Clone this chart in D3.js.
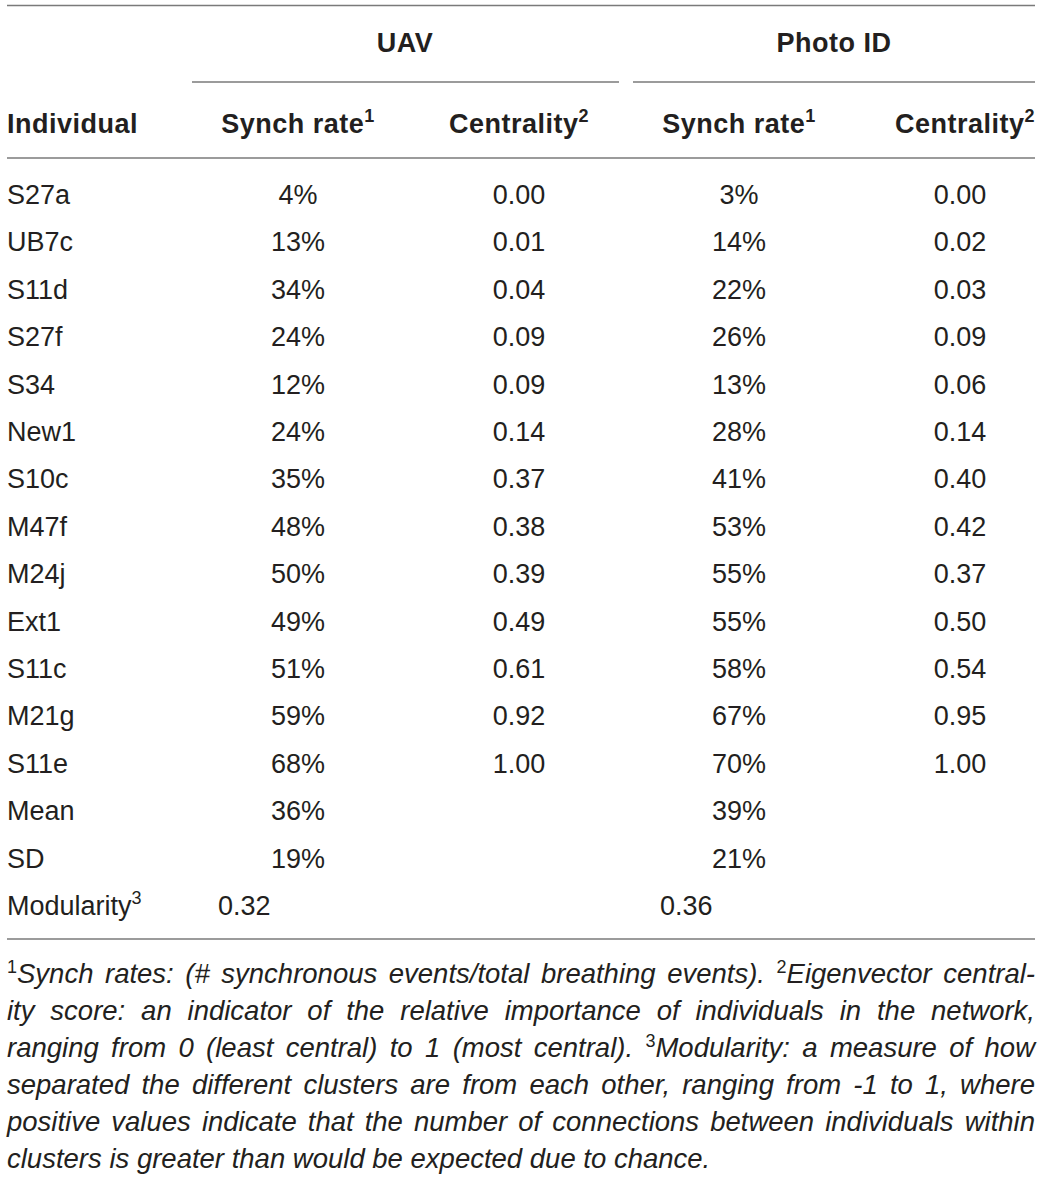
<!DOCTYPE html>
<html lang="en">
<head>
<meta charset="utf-8">
<title>UAV vs Photo ID synchrony table</title>
<script src="https://d3js.org/d3.v7.min.js"></script>
<style>
  body { margin: 0; background: #fff; }
  svg text { font-family: "Liberation Sans", Arial, Helvetica, sans-serif; fill: #231f20; }
</style>
</head>
<body>
<script>
// table values
var individuals = ["S27a", "UB7c", "S11d", "S27f", "S34", "New1", "S10c", "M47f", "M24j", "Ext1", "S11c", "M21g", "S11e"];
var uavSynch = [4, 13, 34, 24, 12, 24, 35, 48, 50, 49, 51, 59, 68];
var uavCentrality = [0.00, 0.01, 0.04, 0.09, 0.09, 0.14, 0.37, 0.38, 0.39, 0.49, 0.61, 0.92, 1.00];
var photoSynch = [3, 14, 22, 26, 13, 28, 41, 53, 55, 55, 58, 67, 70];
var photoCentrality = [0.00, 0.02, 0.03, 0.09, 0.06, 0.14, 0.40, 0.42, 0.37, 0.50, 0.54, 0.95, 1.00];
var methods = ["UAV", "Photo ID"];
var meanSynch = [36, 39];
var sdSynch = [19, 21];
var modularity = [0.32, 0.36];

var footLines = [
  [["1", true], ["Synch rates: (# synchronous events/total breathing events). ", false], ["2", true], ["Eigenvector central-", false]],
  [["ity score: an indicator of the relative importance of individuals in the network,", false]],
  [["ranging from 0 (least central) to 1 (most central). ", false], ["3", true], ["Modularity: a measure of how", false]],
  [["separated the different clusters are from each other, ranging from -1 to 1, where", false]],
  [["positive values indicate that the number of connections between individuals within", false]],
  [["clusters is greater than would be expected due to chance.", false]]
];

var w = 1041, h = 1180;
var left = 7, right = 1035;

var svg = d3.select("body").append("svg")
  .attr("width", w)
  .attr("height", h);

// row positions (baselines)
var rowKeys = individuals.concat(["Mean", "SD", "Modularity"]);
var yScale = d3.scalePoint()
  .domain(rowKeys)
  .range([204, 915]);

// column centres
var cols = ["uavS", "uavC", "phS", "phC"];
var xScale = d3.scaleOrdinal()
  .domain(cols)
  .range([298, 519, 739, 960]);

function rule(y, x1, x2) {
  svg.append("line")
    .attr("x1", x1).attr("x2", x2)
    .attr("y1", y).attr("y2", y)
    .attr("stroke", "#7a7a7a")
    .attr("stroke-width", 1.3);
}

// horizontal rules
rule(5.5, left, right);
rule(82, 192, 619);
rule(82, 633, right);
rule(158, left, right);
rule(939, left, right);

// group headers
svg.selectAll("text.group")
  .data(methods)
  .enter()
  .append("text")
  .attr("class", "group")
  .attr("x", function(d, i) { return i == 0 ? 405 : 834; })
  .attr("y", 52)
  .attr("text-anchor", "middle")
  .attr("font-size", "27px")
  .attr("font-weight", "bold")
  .attr("letter-spacing", "0.5px")
  .text(function(d) { return d; });

// column headers
svg.append("text")
  .attr("x", left)
  .attr("y", 133)
  .attr("font-size", "27px")
  .attr("font-weight", "bold")
  .attr("letter-spacing", "0.5px")
  .text("Individual");

var headers = [["Synch rate", "1"], ["Centrality", "2"], ["Synch rate", "1"], ["Centrality", "2"]];
headers.forEach(function(hd, i) {
  var t = svg.append("text")
    .attr("x", i == 3 ? right : xScale(cols[i]))
    .attr("y", 133)
    .attr("text-anchor", i == 3 ? "end" : "middle")
    .attr("font-size", "27px")
    .attr("font-weight", "bold")
    .attr("letter-spacing", "0.5px");
  t.append("tspan").text(hd[0]);
  t.append("tspan")
    .attr("font-size", "18px")
    .attr("dy", -11)
    .text(hd[1]);
});

// individual names
svg.selectAll("text.name")
  .data(rowKeys)
  .enter()
  .append("text")
  .attr("class", "name")
  .attr("x", left)
  .attr("y", function(d) { return yScale(d); })
  .attr("font-size", "27px")
  .each(function(d) {
    var t = d3.select(this);
    t.append("tspan").text(d);
    if (d == "Modularity") {
      t.append("tspan").attr("font-size", "18px").attr("dy", -11).text("3");
    }
  });

var pct = function(v) { return v + "%"; };
var dec = d3.format(".2f");

var cells = [];
individuals.forEach(function(name, i) {
  cells.push({ col: "uavS", row: name, txt: pct(uavSynch[i]) });
  cells.push({ col: "uavC", row: name, txt: dec(uavCentrality[i]) });
  cells.push({ col: "phS", row: name, txt: pct(photoSynch[i]) });
  cells.push({ col: "phC", row: name, txt: dec(photoCentrality[i]) });
});
["uavS", "phS"].forEach(function(c, i) {
  cells.push({ col: c, row: "Mean", txt: pct(meanSynch[i]) });
  cells.push({ col: c, row: "SD", txt: pct(sdSynch[i]) });
});

svg.selectAll("text.cell")
  .data(cells)
  .enter()
  .append("text")
  .attr("class", "cell")
  .attr("x", function(d) { return xScale(d.col); })
  .attr("y", function(d) { return yScale(d.row); })
  .attr("text-anchor", "middle")
  .attr("font-size", "27px")
  .text(function(d) { return d.txt; });

// modularity is left aligned under each group
svg.selectAll("text.mod")
  .data(modularity)
  .enter()
  .append("text")
  .attr("class", "mod")
  .attr("x", function(d, i) { return i == 0 ? 218 : 660; })
  .attr("y", yScale("Modularity"))
  .attr("font-size", "27px")
  .text(function(d) { return dec(d); });

// footnote, justified by hand
footLines.forEach(function(parts, li) {
  var t = svg.append("text")
    .attr("x", left)
    .attr("y", 983 + li * 37)
    .attr("font-size", "27.5px");
  parts.forEach(function(p) {
    var s = t.append("tspan").text(p[0]);
    if (p[1]) {
      s.attr("font-size", "18px").attr("baseline-shift", "super");
    } else {
      s.attr("font-style", "italic");
    }
  });
  if (li < footLines.length - 1) {
    var full = parts.map(function(p) { return p[0]; }).join("");
    var gaps = (full.match(/ /g) || []).length;
    var len = t.node().getComputedTextLength();
    if (gaps > 0) t.attr("word-spacing", (right - left - len) / gaps);
  }
});
</script>
</body>
</html>
